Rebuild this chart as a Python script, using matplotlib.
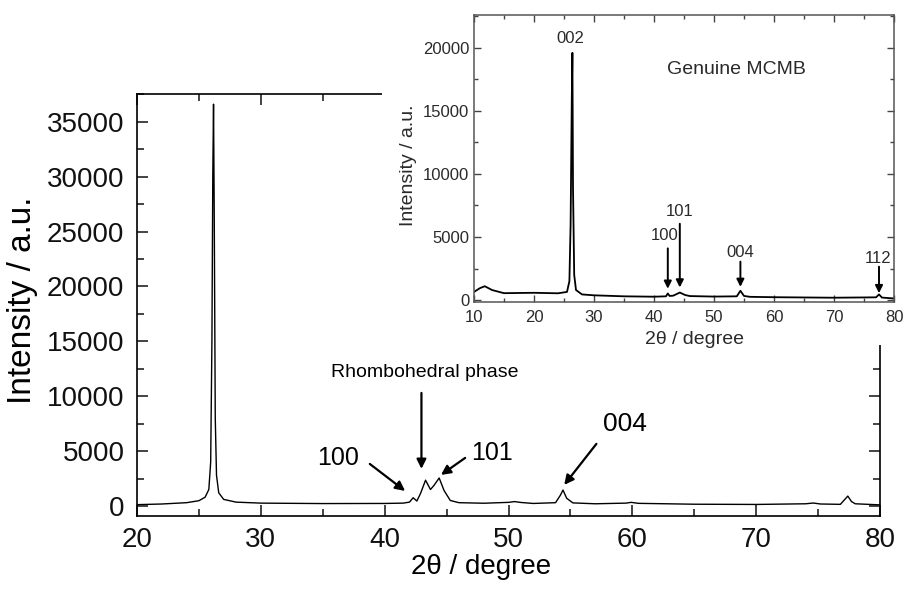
import matplotlib
matplotlib.use("Agg")
import matplotlib.pyplot as plt
from matplotlib.patches import Rectangle
from matplotlib.ticker import MultipleLocator

plt.rcParams['font.family'] = ['Liberation Sans', 'DejaVu Sans']

# Main pattern (sampled by eye)
main_2theta = [20, 22, 24, 25, 25.5, 25.8, 25.95, 26.05, 26.12, 26.18, 26.24, 26.32, 26.42, 26.6, 27, 28, 30, 35, 40,
               41.5, 42.0, 42.3, 42.6, 42.9, 43.3, 43.7, 44.0, 44.4, 44.8, 45.3, 46, 48, 50, 50.5, 51, 52,
               53.8, 54.2, 54.4, 54.7, 55.2, 57, 59.5, 59.9, 60.5, 65, 70, 74, 74.6, 75.2, 76.8, 77.2, 77.4, 77.7, 78, 80]
main_int = [120, 180, 300, 480, 800, 1500, 4000, 15000, 30000, 36600, 26000, 8000, 2800, 1200, 600, 350, 260, 220, 230,
            260, 350, 750, 450, 1150, 2350, 1500, 1900, 2550, 1400, 500, 300, 250, 330, 400, 320, 230,
            300, 1000, 1450, 700, 280, 200, 260, 330, 240, 160, 140, 200, 270, 180, 150, 650, 900, 400, 200, 100]

# Inset pattern: genuine MCMB
ins_2theta = [10, 11, 11.8, 13, 15, 20, 24, 25.5, 25.9, 26.1, 26.3, 26.4, 26.5, 26.7, 27, 28, 30, 35, 40,
              42.0, 42.3, 42.6, 43.2, 44.3, 45.2, 46, 50, 53.8, 54.4, 55, 56, 60, 70, 77.0, 77.5, 78, 80]
ins_int = [650, 950, 1100, 800, 550, 580, 540, 650, 1500, 6000, 16000, 19600, 9000, 2000, 800, 450, 380, 300, 270,
           300, 530, 330, 350, 600, 400, 320, 280, 300, 740, 330, 260, 230, 190, 220, 450, 200, 130]

W, H = 905, 592
fig = plt.figure(figsize=(W / 100, H / 100), dpi=100)

def fx(px):
    return px / W

def fy(py):
    return 1 - py / H

ax = fig.add_axes([fx(137), fy(516), fx(880) - fx(137), fy(94) - fy(516)])
ax.plot(main_2theta, main_int, color='black', lw=1.0)
ax.set_xlim(20, 80)
ax.set_ylim(-913, 37530)
ax.xaxis.set_major_locator(MultipleLocator(10))
ax.xaxis.set_minor_locator(MultipleLocator(5))
ax.yaxis.set_major_locator(MultipleLocator(5000))
ax.yaxis.set_minor_locator(MultipleLocator(2500))
ax.tick_params(which='both', direction='in', top=True, right=True, width=1.1, colors='#111111')
ax.tick_params(which='major', length=8, labelsize=20)
ax.tick_params(axis='x', which='major', pad=8)
ax.tick_params(axis='y', which='major', pad=9)
ax.tick_params(which='minor', length=5)
for s in ax.spines.values():
    s.set_linewidth(1.2)
fig.text(fx(23), fy(300), 'Intensity / a.u.', fontsize=24, rotation=90, ha='center', va='center')
fig.text(fx(481), fy(567), '2θ / degree', fontsize=20, ha='center', va='center')

arw = dict(arrowstyle='-|>', color='black', lw=1.6, mutation_scale=14, shrinkA=0, shrinkB=0)
ax.text(36.2, 4380, '100', fontsize=18, ha='center', va='center')
ax.annotate('', xy=(41.65, 1370), xytext=(38.8, 3830), arrowprops=arw)
ax.text(43.2, 12150, 'Rhombohedral phase', fontsize=14, ha='center', va='center')
ax.annotate('', xy=(42.97, 3380), xytext=(42.97, 10300), arrowprops=arw)
ax.text(48.65, 4840, '101', fontsize=18, ha='center', va='center')
ax.annotate('', xy=(44.55, 2830), xytext=(46.5, 4380), arrowprops=arw)
ax.text(59.4, 7490, '004', fontsize=19, ha='center', va='center')
ax.annotate('', xy=(54.5, 1920), xytext=(57.1, 5660), arrowprops=arw)

# white backdrop behind inset (hides the main frame there)
fig.patches.append(Rectangle((fx(382), fy(345)), 1.0, 1.0, transform=fig.transFigure,
                             facecolor='white', edgecolor='none', zorder=2))

gc = '#2a2a2a'
ins = fig.add_axes([fx(474), fy(302), fx(894) - fx(474), fy(15) - fy(302)], zorder=3)
ins.plot(ins_2theta, ins_int, color='black', lw=1.3)
ins.set_xlim(10, 80)
ins.set_ylim(-150, 22600)
ins.xaxis.set_major_locator(MultipleLocator(10))
ins.xaxis.set_minor_locator(MultipleLocator(5))
ins.yaxis.set_major_locator(MultipleLocator(5000))
ins.yaxis.set_minor_locator(MultipleLocator(2500))
ins.tick_params(which='both', direction='in', top=True, right=True, width=1.0, colors='#444444',
                labelcolor=gc)
ins.tick_params(which='major', length=5, labelsize=12)
ins.tick_params(axis='x', which='major', pad=6)
ins.tick_params(which='minor', length=3)
for s in ins.spines.values():
    s.set_linewidth(1.1)
    s.set_color('#555555')
fig.text(fx(408), fy(165), 'Intensity / a.u.', fontsize=14, rotation=90, ha='center', va='center',
         color=gc, zorder=4)
fig.text(fx(694), fy(340), '2θ / degree', fontsize=14, ha='center', va='center', color=gc, zorder=4)
ins.text(26.0, 20760, '002', fontsize=12, ha='center', va='center', color=gc)
ins.text(53.8, 18250, 'Genuine MCMB', fontsize=14, ha='center', va='center', color=gc)
iarw = dict(arrowstyle='-|>', color='black', lw=1.4, mutation_scale=11, shrinkA=0, shrinkB=0)
ins.annotate('', xy=(42.3, 900), xytext=(42.3, 4100), arrowprops=iarw)
ins.text(41.8, 5150, '100', fontsize=12, ha='center', va='center', color=gc)
ins.annotate('', xy=(44.3, 1000), xytext=(44.3, 6050), arrowprops=iarw)
ins.text(44.2, 7000, '101', fontsize=12, ha='center', va='center', color=gc)
ins.annotate('', xy=(54.4, 1050), xytext=(54.4, 3050), arrowprops=iarw)
ins.text(54.3, 3800, '004', fontsize=12, ha='center', va='center', color=gc)
ins.annotate('', xy=(77.5, 550), xytext=(77.5, 2650), arrowprops=iarw)
ins.text(77.4, 3300, '112', fontsize=12, ha='center', va='center', color=gc)

fig.savefig('out.png', dpi=100, facecolor='white')
